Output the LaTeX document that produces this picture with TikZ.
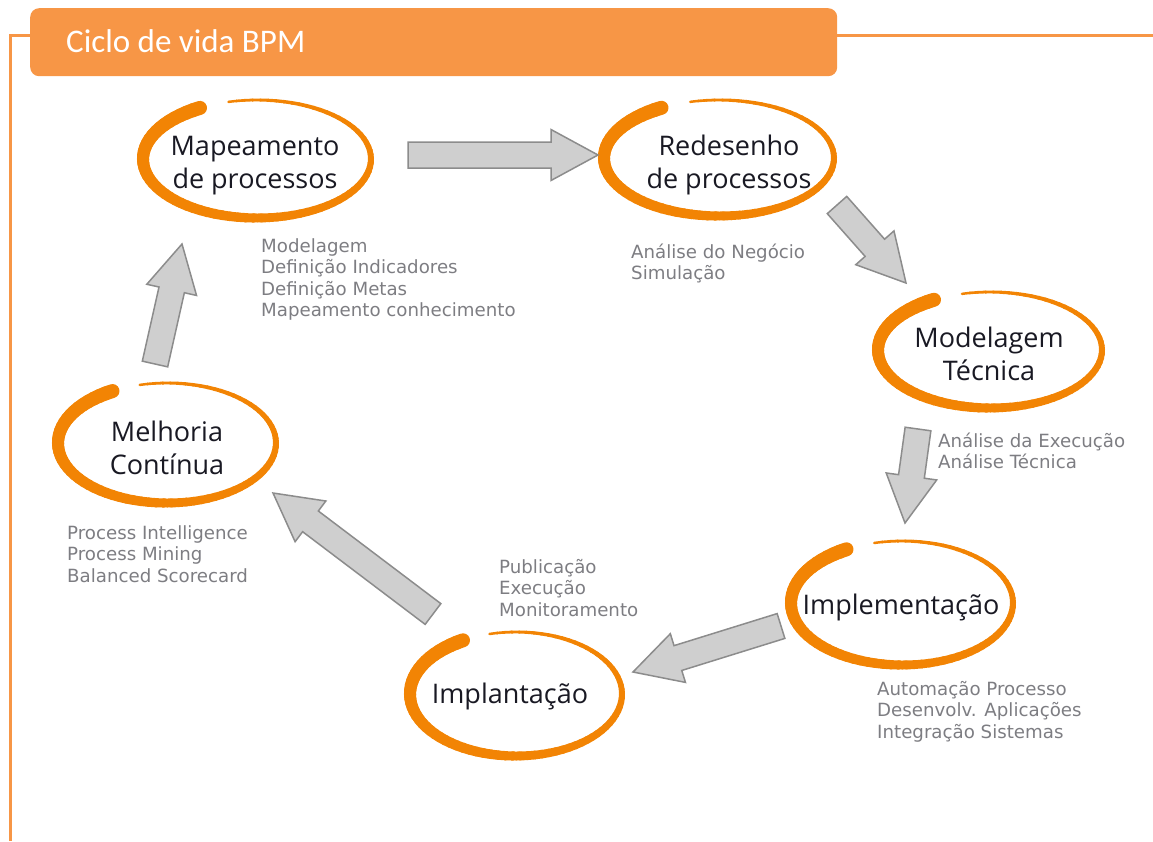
\documentclass[tikz,border=0pt]{standalone}
\usepackage{fontspec}
\setmainfont{Open Sans}
\newfontfamily\titlefont{Carlito}
\newfontfamily\labelfont{Open Sans}
\newfontfamily\notefont{DejaVu Sans}
\usetikzlibrary{calc}
\definecolor{barc}{RGB}{247,150,70}
\definecolor{brushc}{RGB}{242,132,4}
\definecolor{arrfill}{RGB}{207,207,207}
\definecolor{arrdraw}{RGB}{140,140,140}
\definecolor{notec}{RGB}{125,125,130}
\definecolor{labc}{RGB}{25,25,35}
\tikzset{
  mainlbl/.style={font=\labelfont\fontsize{27}{33}\selectfont, text=labc, align=center, inner sep=0pt},
  notes/.style={font=\notefont\fontsize{18.2}{21.5}\selectfont, text=notec, align=left, anchor=base west, inner sep=0pt},
  barrow/.style={fill=arrfill, draw=arrdraw, line width=1.5pt, line join=miter},
  titlebar/.style={fill=barc, rounded corners=9pt, minimum width=807pt, minimum height=68pt, anchor=north west, inner sep=0pt},
  framel/.style={draw=barc, line width=3pt},
  brushseg/.style={draw=brushc, line cap=round},
}
% brush-stroke ring: centre coordinate, outer x radius, outer y radius
\newcommand\brushring[3]{%
  \pgfmathsetmacro\brx{#2-6}%
  \pgfmathsetmacro\bry{#3-4}%
  \foreach \a in {120,124,...,460}{%
    \pgfmathsetmacro\bw{14-11.5*(\a-120)/340}%
    \pgfmathsetmacro\be{\a+4.5}%
    \draw[brushseg, line width=\bw pt] ($(#1)+(\a:{\brx} and {\bry})$) arc[start angle=\a, end angle=\be, x radius=\brx, y radius=\bry];
  }%
}
\newcommand\blockarrow[2]{%
  \draw[barrow] let \p1=($(#2)-(#1)$), \n1={atan2(\y1,\x1)}, \n2={veclen(\x1,\y1)-47} in
    ($(#1)+(\n1+90:13)$) -- ++(\n1:\n2) -- ++(\n1+90:12.5) -- (#2)
    -- ($(#1)+(\n1-90:25.5)+(\n1:\n2)$) -- ++(\n1+90:12.5) -- ($(#1)+(\n1-90:13)$) -- cycle;
}
\begin{document}
\begin{tikzpicture}[x=1pt,y=1pt]
\useasboundingbox (0,0) rectangle (1153,-841);
% frame and title
\node[titlebar] (bar) at (30,-8) {};
\draw[framel] (10,-841) -- (10,-35) -- (30,-35);
\draw[framel] (bar.east |- 0,-35) -- (1153,-35);
\node[font=\titlefont\fontsize{33}{36}\selectfont, text=white, anchor=base west, inner sep=0pt] (title) at (66,-52) {Ciclo de vida BPM};
% ellipse centres
\coordinate (eMap) at (257,-159);
\coordinate (eRed) at (719,-158);
\coordinate (eMod) at (990,-350);
\coordinate (eImp) at (902,-603);
\coordinate (eIml) at (516,-694);
\coordinate (eMel) at (167,-443);
\brushring{eMap}{120}{63}
\brushring{eRed}{121}{62}
\brushring{eMod}{118}{62}
\brushring{eImp}{117}{66}
\brushring{eIml}{112}{66}
\brushring{eMel}{115}{64}
% labels
\node[mainlbl] (map) at (255,-166) {Mapeamento\\de processos};
\node[mainlbl] (red) at (729,-165) {Redesenho\\de processos};
\node[mainlbl] (mod) at (989,-354) {Modelagem\\Técnica};
\node[mainlbl] (imp) at (901,-607) {Implementação};
\node[mainlbl] (iml) at (510,-696) {Implantação};
\node[mainlbl] (mel) at (167,-448) {Melhoria\\Contínua};
% notes (anchored at the baseline of the last line)
\node[notes] (nMap) at (261,-316.5) {Modelagem\\Definição Indicadores\\Definição Metas\\Mapeamento conhecimento};
\node[notes] (nRed) at (631,-279.5) {Análise do Negócio\\Simulação};
\node[notes] (nMod) at (938,-468.5) {Análise da Execução\\Análise Técnica};
\node[notes] (nMel) at (67,-582) {Process Intelligence\\Process Mining\\Balanced Scorecard};
\node[notes] (nIml) at (499,-616) {Publicação\\Execução\\Monitoramento};
\node[notes] (nImp) at (877,-738) {Automação Processo\\Desenvolv. Aplicações\\Integração Sistemas};
% arrows
\coordinate (a1s) at (408,-155); \coordinate (a1e) at (598,-155);
\coordinate (a2s) at (837,-205); \coordinate (a2e) at (906,-283);
\coordinate (a3s) at (918,-429); \coordinate (a3e) at (905,-523);
\coordinate (a4s) at (781,-626); \coordinate (a4e) at (633,-672);
\coordinate (a5s) at (433,-614); \coordinate (a5e) at (273,-493);
\coordinate (a6s) at (155,-364); \coordinate (a6e) at (182,-244);
\blockarrow{a1s}{a1e}
\blockarrow{a2s}{a2e}
\blockarrow{a3s}{a3e}
\blockarrow{a4s}{a4e}
\blockarrow{a5s}{a5e}
\blockarrow{a6s}{a6e}
\end{tikzpicture}
\end{document}
